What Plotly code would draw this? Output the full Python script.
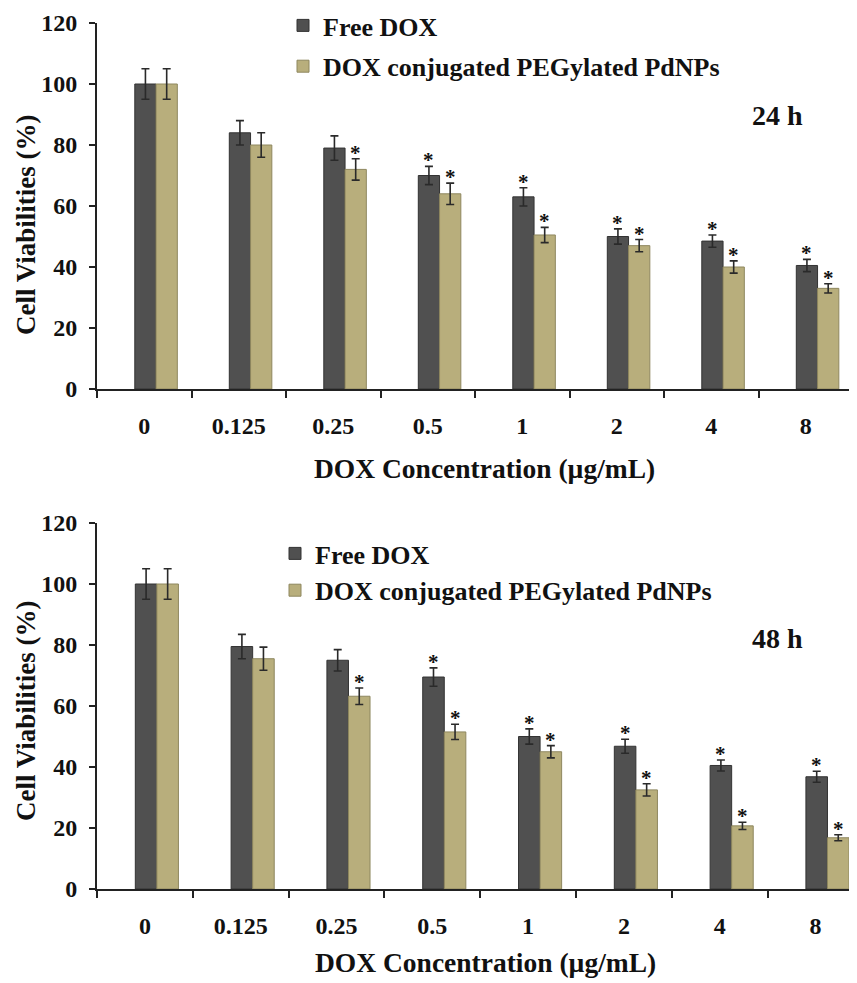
import plotly.graph_objects as go

# The page body adds an 8 px margin, so the figure is laid out 8 px smaller
PAGE_W, PAGE_H, PAD = 857, 983, 8
W, H = PAGE_W - PAD, PAGE_H - PAD


def fx(px):
    return (px - PAD) / W


def fy(py):
    return 1 - (py - PAD) / H


categories = ["0", "0.125", "0.25", "0.5", "1", "2", "4", "8"]
series_names = ["Free DOX", "DOX conjugated PEGylated PdNPs"]

# 24 h
free_24 = [100, 84, 79, 70, 63, 50, 48.5, 40.5]
free_24_err = [5, 4, 4, 3, 3, 2.5, 2, 2]
conj_24 = [100, 80, 72, 64, 50.5, 47, 40, 33]
conj_24_err = [5, 4, 3.5, 3.5, 2.5, 2, 2, 1.5]
free_24_sig = [False, False, False, True, True, True, True, True]
conj_24_sig = [False, False, True, True, True, True, True, True]

# 48 h
free_48 = [100, 79.5, 75, 69.5, 50, 46.8, 40.5, 36.8]
free_48_err = [5, 4, 3.5, 3, 2.5, 2.3, 1.8, 1.8]
conj_48 = [100, 75.5, 63.2, 51.5, 45, 32.5, 20.7, 16.8]
conj_48_err = [5, 3.8, 2.7, 2.5, 2, 2, 1.2, 1]
free_48_sig = [False, False, False, True, True, True, True, True]
conj_48_sig = [False, False, True, True, True, True, True, True]

y_ticks = [0, 20, 40, 60, 80, 100, 120]

DARK = "#505050"
DARK_EDGE = "#333333"
TAN = "#b8ae7c"
TAN_EDGE = "#8e875f"
FONT = "Liberation Serif"
BAR_W = 0.225
OFFSETS = [-0.10, 0.125]

xpos = list(range(len(categories)))
boundaries = [i - 0.5 for i in range(len(categories) + 1)]

fig = go.Figure()
star_annotations = []


def add_panel(xa, ya, free, free_err, conj, conj_err, free_sig, conj_sig, legend):
    specs = [
        (series_names[0], free, free_err, free_sig, DARK, DARK_EDGE, OFFSETS[0]),
        (series_names[1], conj, conj_err, conj_sig, TAN, TAN_EDGE, OFFSETS[1]),
    ]
    for i, (name, vals, errs, sig, col, edge, off) in enumerate(specs):
        fig.add_trace(go.Bar(
            x=xpos, y=vals, name=name,
            xaxis=xa, yaxis=ya,
            width=BAR_W, offset=off,
            marker=dict(color=col, line=dict(color=edge, width=1)),
            error_y=dict(type="data", array=errs, visible=True,
                         color="#2a2a2a", thickness=1.6, width=4),
            legend=legend, legendgroup=legend + str(i), showlegend=True,
        ))
        for x, v, e, s in zip(xpos, vals, errs, sig):
            if s:
                star_annotations.append(dict(
                    x=x + off + BAR_W / 2, y=v + e, xref=xa, yref=ya,
                    text="*", showarrow=False, xanchor="center", yanchor="middle",
                    yshift=6,
                    font=dict(family=FONT, size=21, color="#111", weight="bold"),
                ))


add_panel("x", "y", free_24, free_24_err, conj_24, conj_24_err, free_24_sig, conj_24_sig, "legend")
add_panel("x2", "y2", free_48, free_48_err, conj_48, conj_48_err, free_48_sig, conj_48_sig, "legend2")

tickfont = dict(family=FONT, size=24, color="#111", weight="bold")

xcommon = dict(
    tickmode="array", tickvals=xpos, ticktext=categories, ticks="",
    minor=dict(tickmode="array", tickvals=boundaries, ticks="outside",
               ticklen=7, tickwidth=2, tickcolor="#222"),
    showline=True, linewidth=2, linecolor="#222",
    showgrid=False, zeroline=False, tickfont=tickfont, ticklabelstandoff=14,
    automargin=False,
)
ycommon = dict(
    range=[0, 120], tickvals=y_ticks, ticks="outside", ticklen=6, tickwidth=2,
    tickcolor="#222", showline=True, linewidth=2, linecolor="#222",
    showgrid=False, zeroline=False, tickfont=tickfont, ticklabelstandoff=7,
    automargin=False,
)

fig.update_layout(
    width=W, height=H,
    margin=dict(l=0, r=0, t=0, b=0, autoexpand=False),
    paper_bgcolor="white", plot_bgcolor="white",
    barmode="overlay",
    xaxis=dict(domain=[fx(97), fx(853)], range=[-0.5, 7.5], anchor="y", **xcommon),
    yaxis=dict(domain=[fy(389), fy(23)], anchor="x", **ycommon),
    xaxis2=dict(domain=[fx(97), 1.0], range=[-0.5, 7.5 - (97 + 8 * 95.8 - PAGE_W) / 95.8],
                anchor="y2", **xcommon),
    yaxis2=dict(domain=[fy(889), fy(523)], anchor="x2", **ycommon),
    legend=dict(x=fx(283), y=fy(2), xanchor="left", yanchor="top",
                bgcolor="rgba(0,0,0,0)", tracegroupgap=4,
                font=dict(family=FONT, size=26, color="#111", weight="bold")),
    legend2=dict(x=fx(275), y=fy(530), xanchor="left", yanchor="top",
                 bgcolor="rgba(0,0,0,0)", tracegroupgap=0,
                 font=dict(family=FONT, size=26, color="#111", weight="bold")),
    showlegend=True,
)

title_font = dict(family=FONT, size=27.5, color="#111", weight="bold")
ytitle_font = dict(family=FONT, size=27, color="#111", weight="bold")
hfont = dict(family=FONT, size=28, color="#111", weight="bold")

annotations = [
    dict(text="Cell Viabilities (%)", x=fx(26), y=fy(225), textangle=-90, font=ytitle_font),
    dict(text="DOX Concentration (µg/mL)", x=fx(484), y=fy(468), font=title_font),
    dict(text="24 h", x=fx(777), y=fy(116), font=hfont),
    dict(text="Cell Viabilities (%)", x=fx(26), y=fy(711), textangle=-90, font=ytitle_font),
    dict(text="DOX Concentration (µg/mL)", x=fx(485), y=fy(962), font=title_font),
    dict(text="48 h", x=fx(777), y=fy(638), font=hfont),
]
for a in annotations:
    a.update(xref="paper", yref="paper", showarrow=False, xanchor="center", yanchor="middle")
fig.update_layout(annotations=annotations + star_annotations)

fig.write_html("out.html")
